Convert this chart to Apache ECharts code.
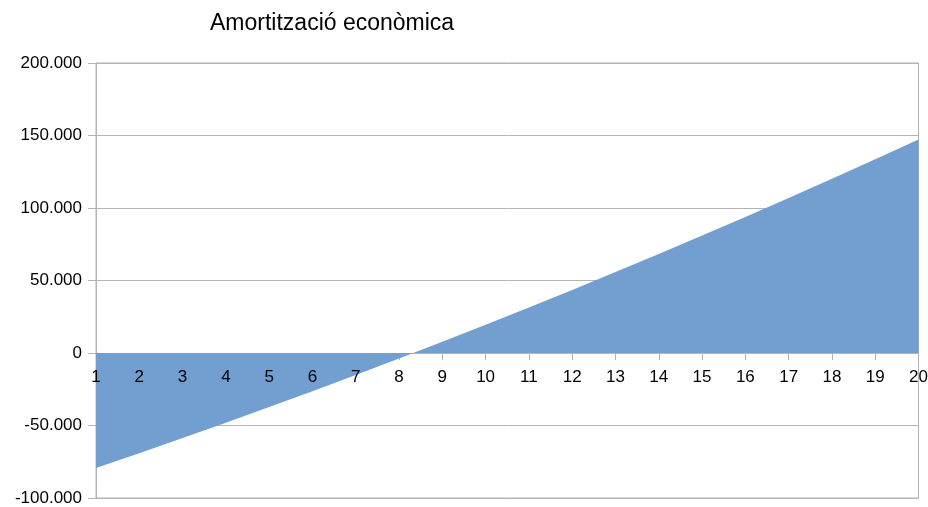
<!DOCTYPE html>
<html>
<head>
<meta charset="utf-8">
<script src="https://cdn.jsdelivr.net/npm/echarts@6/dist/echarts.min.js"></script>
<style>
html,body{margin:0;padding:0;background:#fff;}
#chart{width:928px;height:507px;}
</style>
</head>
<body>
<div id="chart"></div>
<script>
const titleText = "Amortització econòmica";
const years = ["1","2","3","4","5","6","7","8","9","10","11","12","13","14","15","16","17","18","19","20"];
const values = [-79300, -69100, -58700, -48100, -37300, -26300, -15100, -3800, 7800, 19500, 31400, 43500, 55800, 68300, 81000, 93800, 106900, 120100, 133600, 147200];
const yMin = -100000, yMax = 200000, yStep = 50000;

function fmt(v){
  const s = String(Math.abs(v)).replace(/\B(?=(\d{3})+(?!\d))/g, ".");
  return (v < 0 ? "-" : "") + s;
}

const gridTop = 63, gridBottom = 9, H = 507;
const plotH = H - gridTop - gridBottom;
const zeroOffset = -plotH * (0 - yMin) / (yMax - yMin);

const chart = echarts.init(document.getElementById('chart'), null, {renderer:'canvas'});
chart.setOption({
  animation:false,
  backgroundColor:'#fff',
  textStyle:{fontFamily:'Liberation Sans'},
  title:{
    text:titleText, left:210, top:12, padding:0,
    textStyle:{fontFamily:'Liberation Sans', fontSize:23, fontWeight:'normal', color:'#000'}
  },
  grid:{left:96, right:9.5, top:gridTop, bottom:gridBottom, show:true, borderColor:'#b3b3b3', borderWidth:1, containLabel:false, outerBoundsMode:'none'},
  xAxis:[{
    type:'category', data:years, boundaryGap:false, position:'bottom', offset:zeroOffset, z:0,
    axisLine:{onZero:false, lineStyle:{color:'#b3b3b3', width:1}},
    axisTick:{show:true, length:7, lineStyle:{color:'#b3b3b3'}, alignWithLabel:true},
    axisLabel:{show:false},
    splitLine:{show:false}
  },{
    type:'category', data:years, boundaryGap:false, position:'bottom', offset:zeroOffset, z:5,
    axisLine:{show:false, onZero:false},
    axisTick:{show:false},
    axisLabel:{fontFamily:'Liberation Sans', fontSize:17, color:'#000', margin:16, interval:0},
    splitLine:{show:false}
  }],
  yAxis:{
    type:'value', min:yMin, max:yMax, interval:yStep,
    axisLine:{show:true, lineStyle:{color:'#b3b3b3', width:1}},
    axisTick:{show:true, length:8, lineStyle:{color:'#b3b3b3'}},
    axisLabel:{fontFamily:'Liberation Sans', fontSize:17, color:'#000', margin:14, formatter:fmt},
    splitLine:{show:true, lineStyle:{color:'#b3b3b3', width:1}}
  },
  series:[{
    type:'line', data:values, symbol:'none', xAxisIndex:0,
    lineStyle:{width:0, color:'#729fcf'},
    itemStyle:{color:'#729fcf'},
    areaStyle:{color:'#729fcf', opacity:1, origin:0},
    z:1
  }]
});
</script>
</body>
</html>
